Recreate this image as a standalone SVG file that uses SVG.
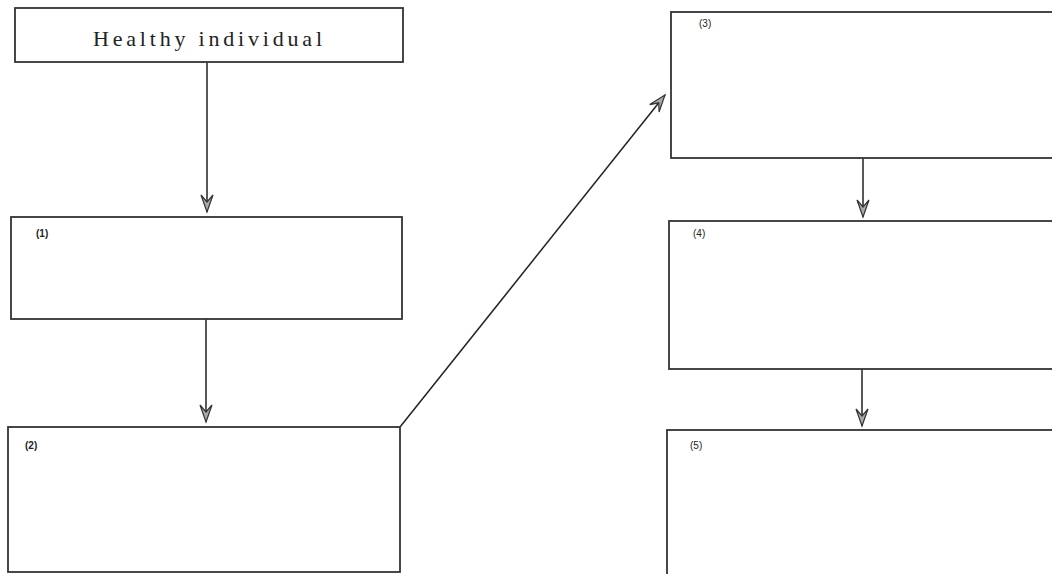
<svg xmlns="http://www.w3.org/2000/svg" width="1052" height="574" viewBox="0 0 1052 574">
<style>
.box{fill:#fff;stroke:#333;stroke-width:1.8}
.lbl{font-family:"Liberation Sans",Arial,sans-serif;font-size:10px;fill:#222}
.b{font-weight:bold}
.title{font-family:"Liberation Serif","Times New Roman",serif;font-size:22px;fill:#222}
.conn{stroke:#222;stroke-width:1.5;fill:none}
</style>
<defs>
<marker id="ah" viewBox="-18 -8 20 16" refX="0" refY="0" markerWidth="20" markerHeight="16" markerUnits="userSpaceOnUse" orient="auto">
<path d="M0,0 L-17,-6 L-10,0 L-17,6 Z" fill="#aaa" stroke="#333" stroke-width="1.2"/>
</marker>
</defs>
<rect width="1052" height="574" fill="#fff"/>
<g id="connectors">
<line class="conn" x1="207" y1="62" x2="207" y2="212" marker-end="url(#ah)"/>
<line class="conn" x1="206" y1="319" x2="206" y2="422" marker-end="url(#ah)"/>
<line class="conn" x1="400" y1="427" x2="665" y2="95" marker-end="url(#ah)"/>
<line class="conn" x1="863" y1="158" x2="863" y2="217" marker-end="url(#ah)"/>
<line class="conn" x1="862" y1="369" x2="862" y2="426" marker-end="url(#ah)"/>
</g>
<g id="healthy">
<rect class="box" x="15" y="8" width="388" height="54"/>
<text class="title" x="93" y="46" textLength="229" lengthAdjust="spacing">Healthy individual</text>
</g>
<g id="n1">
<rect class="box" x="11" y="217" width="391" height="102"/>
<text class="lbl b" x="36" y="237">(1)</text>
</g>
<g id="n2">
<rect class="box" x="8" y="427" width="392" height="145"/>
<text class="lbl b" x="25" y="449">(2)</text>
</g>
<g id="n3">
<rect class="box" x="671" y="12" width="400" height="146"/>
<text class="lbl" x="699" y="27">(3)</text>
</g>
<g id="n4">
<rect class="box" x="669" y="221" width="400" height="148"/>
<text class="lbl" x="693" y="237">(4)</text>
</g>
<g id="n5">
<rect class="box" x="667" y="430" width="400" height="150"/>
<text class="lbl" x="690" y="449">(5)</text>
</g>
</svg>
